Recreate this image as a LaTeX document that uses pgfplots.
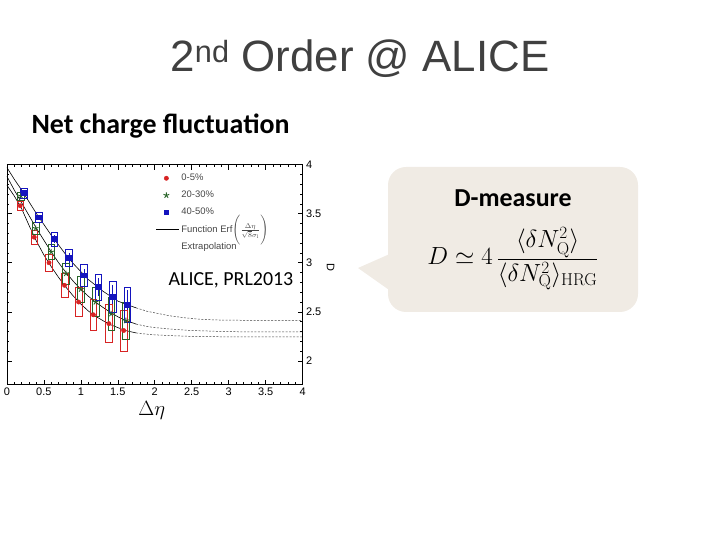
\documentclass[border=0pt]{standalone}
\usepackage[no-math]{fontspec}
\setmainfont{Liberation Sans}
\newfontfamily\carlito{Carlito}
\usepackage{pgfplots}
\usepackage{pgfplotstable}
\pgfplotsset{compat=1.18}

\definecolor{cred}{RGB}{215,35,35}
\definecolor{cgreen}{RGB}{40,100,40}
\definecolor{cblue}{RGB}{20,20,190}
\definecolor{bubble}{RGB}{240,235,228}
\definecolor{titlegray}{RGB}{64,64,64}
\definecolor{leggray}{RGB}{70,70,70}

% box for the systematic error, half height = mark size
\pgfdeclareplotmark{sysbox}{%
  \pgfpathrectangle{\pgfqpoint{-3.3bp}{-\pgfplotmarksize}}{\pgfqpoint{6.6bp}{2\pgfplotmarksize}}%
  \pgfusepathqstroke}

% x = delta eta, y = D, s = systematic half height, e = stat error
\pgfplotstableread{
x y s
0.18 3.58 0.045
0.37 3.26 0.075
0.57 3.00 0.085
0.78 2.77 0.125
0.97 2.60 0.150
1.17 2.47 0.160
1.38 2.38 0.195
1.58 2.31 0.210
}\redtab
\pgfplotstableread{
x y s
0.19 3.68 0.040
0.39 3.35 0.060
0.60 3.11 0.075
0.80 2.89 0.105
1.00 2.73 0.130
1.20 2.60 0.150
1.41 2.48 0.170
1.61 2.41 0.190
}\greentab
\pgfplotstableread{
x y s e
0.23 3.71 0.050 0.03
0.43 3.46 0.050 0.03
0.64 3.24 0.070 0.04
0.84 3.05 0.090 0.05
1.04 2.87 0.110 0.07
1.24 2.75 0.130 0.09
1.43 2.65 0.160 0.12
1.63 2.57 0.180 0.15
}\bluetab

\pgfplotsset{
  fit/.style={black, line width=0.6pt, no marks, forget plot},
  extra/.style={black!75, line width=0.5pt, no marks, dash pattern=on 2pt off 1.5pt, forget plot},
  legmark/.style={legend image code/.code={%
    \path[draw=none] (0cm,0cm) -- (0.8cm,0cm);
    \path[draw=none] plot coordinates {(0.35cm,0cm)};}},
  legline/.style={legend image code/.code={%
    \draw[##1] (0cm,0cm) -- (0.8cm,0cm);}},
  legempty/.style={legend image code/.code={%
    \path[draw=none] (0cm,0cm) -- (0.8cm,0cm);}},
}

\begin{document}
\begin{tikzpicture}[x=1bp,y=1bp]
\path[use as bounding box] (0,0) rectangle (720,540);

% speech bubble
\fill[bubble, rounded corners=18bp] (388,228) rectangle (638,373);
\fill[bubble] (392,287) -- (358,272) -- (392,248) -- cycle;

\node[anchor=base, text=titlegray, font=\fontsize{44}{50}\selectfont] at (360,468)
  {2\textsuperscript{nd} Order @ ALICE};
\node[anchor=base west, font=\carlito\bfseries\fontsize{28}{32}\selectfont] at (28,406)
  {Net charge fluctuation};
\node[anchor=base, font=\carlito\bfseries\fontsize{26}{30}\selectfont] at (513,333)
  {D-measure};
\node[anchor=center, font=\fontsize{27}{31}\selectfont] at (513,281)
  {$\displaystyle D\simeq 4\,\frac{\langle\delta N_{\mathrm{Q}}^2\rangle}{\langle\delta N_{\mathrm{Q}}^2\rangle_{\mathrm{HRG}}}$};

\begin{axis}[
  at={(9.3,158.3)}, anchor=south west,
  scale only axis, width=295.7bp, height=220bp,
  xmin=0, xmax=4, ymin=1.76, ymax=4,
  xtick={0,0.5,...,4}, ytick={2,2.5,...,4},
  minor x tick num=4, minor y tick num=4,
  tick align=inside, major tick length=5bp, minor tick length=2.5bp,
  yticklabel pos=right,
  axis line style={line width=0.6pt}, tick style={line width=0.5pt, black},
  /pgf/number format/assume math mode=true,
  ticklabel style={font=\fontsize{11}{13}\selectfont},
  xlabel={$\Delta\eta$},
  every axis x label/.style={at={(axis description cs:0.49,-0.118)}, anchor=center,
    font=\fontsize{22}{26}\selectfont},
  ylabel={D},
  every axis y label/.style={at={(axis description cs:1.095,0.53)}, anchor=center,
    rotate=-90, font=\fontsize{11}{13}\selectfont},
  legend style={at={(axis description cs:0.494,0.975)}, anchor=north west,
    draw=none, fill=none, text=leggray, row sep=5pt,
    font=\fontsize{9.5}{11}\selectfont, cells={anchor=west}},
]
% systematic boxes
\addplot[scatter, only marks, mark=sysbox, line width=0.6pt, forget plot,
  scatter/use mapped color={draw=cred, fill=none},
  visualization depends on={98.6*\thisrow{s} \as \ms},
  scatter/@pre marker code/.append style={/tikz/mark size=\ms}]
  table[x=x, y=y] {\redtab};
\addplot[scatter, only marks, mark=sysbox, line width=0.6pt, forget plot,
  scatter/use mapped color={draw=cgreen, fill=none},
  visualization depends on={98.6*\thisrow{s} \as \ms},
  scatter/@pre marker code/.append style={/tikz/mark size=\ms}]
  table[x=x, y=y] {\greentab};
\addplot[scatter, only marks, mark=sysbox, line width=0.7pt, forget plot,
  scatter/use mapped color={draw=cblue, fill=none},
  visualization depends on={98.6*\thisrow{s} \as \ms},
  scatter/@pre marker code/.append style={/tikz/mark size=\ms}]
  table[x=x, y=y] {\bluetab};

% fits
\addplot[fit] coordinates {(0,3.97) (0.1,3.85) (0.2,3.74) (0.3,3.62) (0.4,3.50) (0.5,3.39)
  (0.6,3.28) (0.7,3.18) (0.8,3.08) (0.9,2.99) (1.0,2.91) (1.1,2.83) (1.2,2.77) (1.3,2.71)
  (1.4,2.66) (1.5,2.61) (1.6,2.58) (1.75,2.54)};
\addplot[fit] coordinates {(0,3.88) (0.1,3.74) (0.2,3.61) (0.3,3.48) (0.4,3.35) (0.5,3.23)
  (0.6,3.11) (0.7,3.00) (0.8,2.90) (0.9,2.81) (1.0,2.73) (1.1,2.66) (1.2,2.60) (1.3,2.545)
  (1.4,2.495) (1.5,2.45) (1.6,2.415) (1.75,2.375)};
\addplot[fit] coordinates {(0,3.79) (0.1,3.68) (0.2,3.55) (0.3,3.38) (0.4,3.22) (0.5,3.08)
  (0.6,2.96) (0.7,2.85) (0.8,2.75) (0.9,2.66) (1.0,2.58) (1.1,2.51) (1.2,2.455) (1.3,2.41)
  (1.4,2.37) (1.5,2.34) (1.6,2.31) (1.75,2.285)};
% extrapolations
\addplot[extra] coordinates {(1.75,2.54) (1.9,2.505) (2.0,2.49) (2.2,2.46) (2.4,2.44)
  (2.6,2.425) (2.8,2.418) (3.0,2.415) (3.5,2.413) (4,2.413)};
\addplot[extra] coordinates {(1.75,2.375) (1.9,2.35) (2.0,2.34) (2.2,2.325) (2.5,2.31)
  (3.0,2.298) (3.5,2.295) (4,2.295)};
\addplot[extra] coordinates {(1.75,2.285) (1.9,2.272) (2.0,2.266) (2.2,2.258) (2.5,2.25)
  (3.0,2.245) (3.5,2.244) (4,2.244)};

% data points
\addplot[only marks, mark=*, mark size=2.2pt, color=cred, forget plot]
  table[x=x, y=y] {\redtab};
\addplot[only marks, mark=star, mark size=3pt, color=cgreen, line width=0.9pt, forget plot]
  table[x=x, y=y] {\greentab};
\addplot[only marks, mark=square*, mark size=2.3pt, color=cblue, line width=1.3pt, forget plot,
  error bars/.cd, y dir=both, y explicit, error mark=none]
  table[x=x, y=y, y error=e] {\bluetab};

\addlegendimage{legmark, only marks, mark=*, mark size=2.2pt, color=cred}
\addlegendentry{0-5\%}
\addlegendimage{legmark, only marks, mark=star, mark size=3pt, color=cgreen, line width=0.9pt}
\addlegendentry{20-30\%}
\addlegendimage{legmark, only marks, mark=square*, mark size=2.3pt, color=cblue}
\addlegendentry{40-50\%}
\addlegendimage{legline, black, line width=0.6pt}
\addlegendentry{Function Erf$\smash{\Biggl(\frac{\Delta\eta}{\sqrt{8}\sigma_{\mathrm{l}}}\Biggr)}$}
\addlegendimage{legempty}
\addlegendentry{Extrapolation}
\end{axis}

\node[font=\carlito\fontsize{20}{24}\selectfont] at (231,260) {ALICE, PRL2013};
\end{tikzpicture}
\end{document}
